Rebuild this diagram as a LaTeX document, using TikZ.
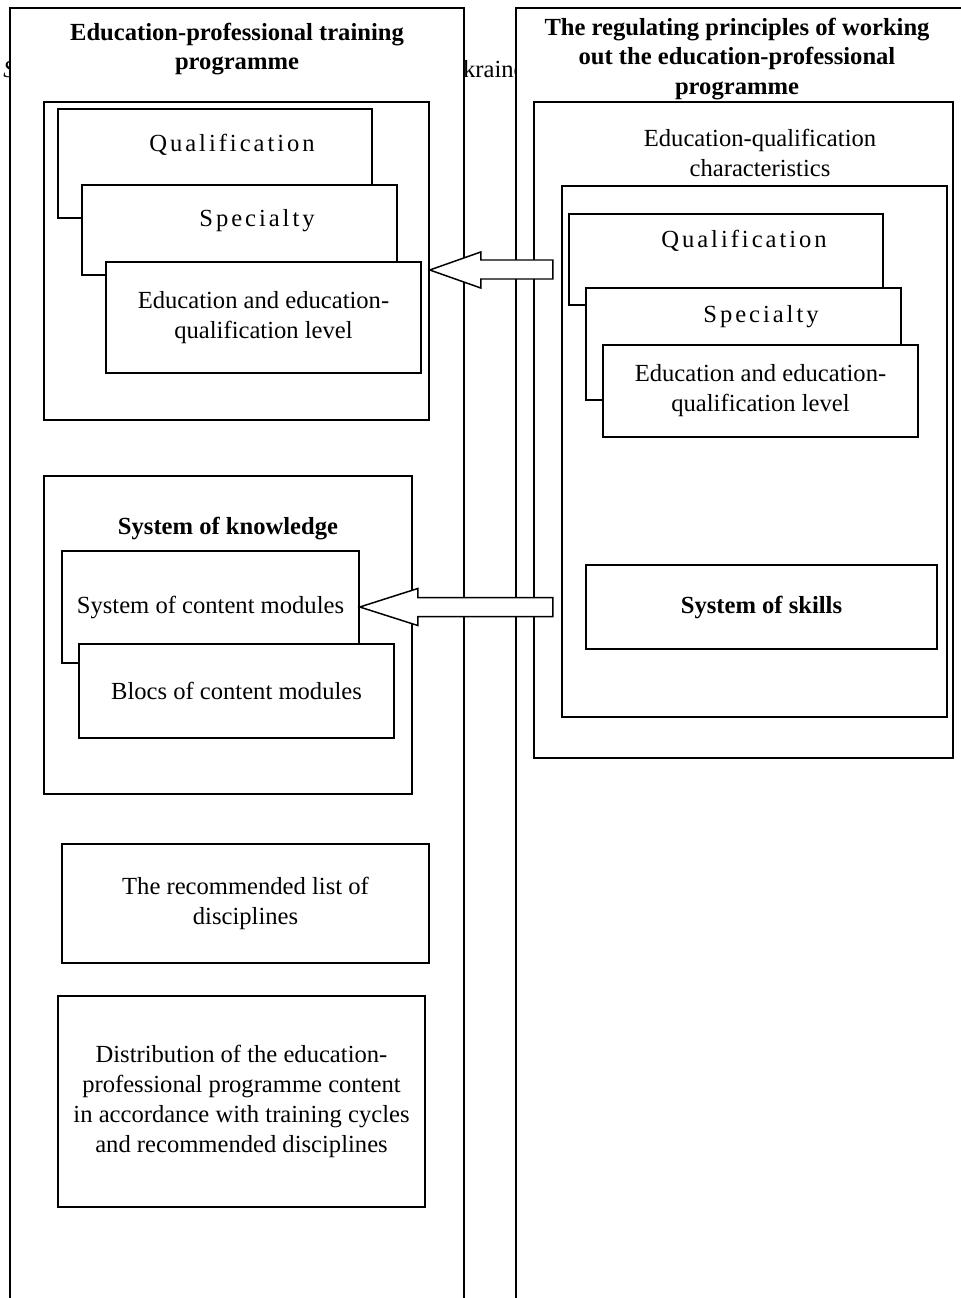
\documentclass[tikz,border=0pt]{standalone}
\usepackage{fontspec}
\setmainfont{Liberation Serif}
\newfontfamily\spacedfont[LetterSpace=12]{Liberation Serif}
\begin{document}
\begin{tikzpicture}

	\tikzstyle{column}=[fill=white,draw=black,line width=0.85pt]
	\tikzstyle{box}=[fill=white,draw=black,line width=0.85pt,
		inner sep=0pt,align=center,
		font=\fontsize{14}{17}\selectfont]
	\tikzstyle{heavybox}=[box,line width=1.1pt]
	\tikzstyle{txt}=[inner sep=0pt,align=center,
		font=\fontsize{14}{17}\selectfont]
	\tikzstyle{boldtxt}=[txt,font=\bfseries\fontsize{14}{17}\selectfont]
	\tikzstyle{spacedtxt}=[txt,font=\fontsize{14}{17}\spacedfont]
	\tikzstyle{fatarrow}=[fill=white,draw=black,line width=0.85pt,line join=miter]

	\useasboundingbox (0,0) rectangle (19.2,-25.96);

	% page text behind the scheme
	\node[txt,anchor=base west]	(pageS)	at (0.06,-1.55)	{\textit{S}};
	\node[txt,anchor=base west]	(pageU)	at (8.9,-1.55)	{Ukraine};

	% two columns, open at the bottom
	\draw[column] (0.2,-26.2) -- (0.2,-0.16) -- (9.28,-0.16) -- (9.28,-26.2);
	\draw[column] (10.32,-26.2) -- (10.32,-0.16) -- (19.5,-0.16) -- (19.5,-26.2);

	\node[boldtxt]	(lefttitle)	at (4.74,-0.98)
		{Education-professional training\\programme};
	\node[boldtxt]	(righttitle)	at (14.74,-1.18)
		{The regulating principles of working\\out the education-professional\\programme};

	% left column
	\node[box,minimum width=7.7cm,minimum height=6.36cm]	(levels)	at (4.73,-5.22)	{};
	\node[box,minimum width=6.28cm,minimum height=2.18cm]	(qual)	at (4.30,-3.27)	{};
	\node[spacedtxt]	(qualtext)	at (4.64,-2.90)	{Qualification};
	\node[box,minimum width=6.3cm,minimum height=1.8cm]	(spec)	at (4.79,-4.60)	{};
	\node[spacedtxt]	(spectext)	at (5.14,-4.42)	{Specialty};
	\node[box,minimum width=6.3cm,minimum height=2.22cm]	(level)	at (5.27,-6.35)
		{Education and education-\\qualification level};

	\node[box,minimum width=7.36cm,minimum height=6.36cm]	(knowledge)	at (4.56,-12.70)	{};
	\node[boldtxt]	(knowtitle)	at (4.56,-10.58)	{System of knowledge};
	\node[box,minimum width=5.94cm,minimum height=2.24cm]	(modules)	at (4.21,-12.14)
		{System of content modules};
	\node[box,minimum width=6.3cm,minimum height=1.88cm]	(blocs)	at (4.73,-13.82)
		{Blocs of content modules};

	\node[box,minimum width=7.34cm,minimum height=2.38cm]	(list)	at (4.91,-18.07)
		{The recommended list of\\disciplines};
	\node[box,minimum width=7.34cm,minimum height=4.22cm]	(distr)	at (4.83,-22.03)
		{Distribution of the education-\\professional programme content\\in accordance with training cycles\\and recommended disciplines};

	% right column
	\node[heavybox,minimum width=8.38cm,minimum height=13.12cm]	(principles)	at (14.87,-8.60)	{};
	\node[txt]	(chartitle)	at (15.2,-3.06)	{Education-qualification\\characteristics};
	\node[heavybox,minimum width=7.7cm,minimum height=10.62cm]	(characteristics)	at (15.09,-9.03)	{};
	\node[box,minimum width=6.28cm,minimum height=1.82cm]	(qualR)	at (14.52,-5.19)	{};
	\node[spacedtxt]	(qualRtext)	at (14.88,-4.82)	{Qualification};
	\node[box,minimum width=6.3cm,minimum height=2.24cm]	(specR)	at (14.87,-6.88)	{};
	\node[spacedtxt]	(specRtext)	at (15.22,-6.34)	{Specialty};
	\node[box,minimum width=6.3cm,minimum height=1.84cm]	(levelR)	at (15.21,-7.82)
		{Education and education-\\qualification level};
	\node[heavybox,minimum width=7.02cm,minimum height=1.68cm,
		font=\bfseries\fontsize{14}{17}\selectfont]	(skills)	at (15.23,-12.14)
		{System of skills};

	% hollow arrows
	\draw[fatarrow] ([yshift=-0.18cm]levels.east) -- ++(1.02,0.36) -- ++(0,-0.16)
		-- ++(1.44,0) -- ++(0,-0.38) -- ++(-1.44,0) -- ++(0,-0.18) -- cycle;
	\draw[fatarrow] (modules.east) -- ++(1.16,0.37) -- ++(0,-0.18)
		-- ++(2.7,0) -- ++(0,-0.38) -- ++(-2.7,0) -- ++(0,-0.18) -- cycle;

\end{tikzpicture}
\end{document}
